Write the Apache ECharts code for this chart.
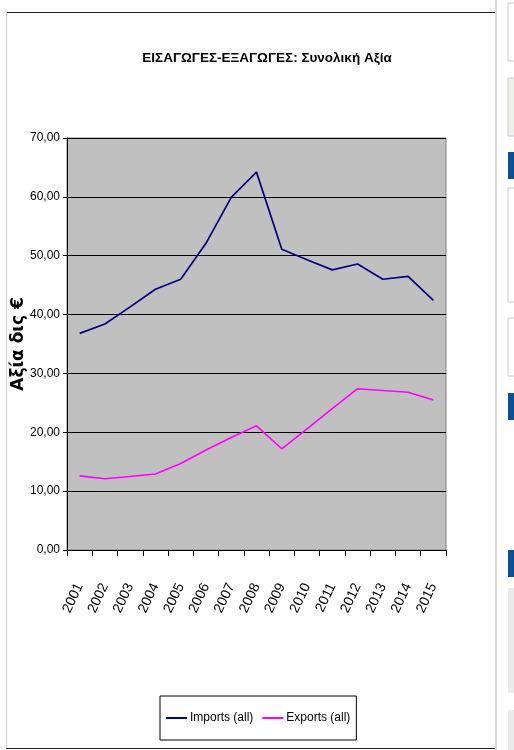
<!DOCTYPE html>
<html><head><meta charset="utf-8">
<script src="https://cdn.jsdelivr.net/npm/echarts@6/dist/echarts.min.js"></script>
<style>html,body{margin:0;padding:0;background:#fff}#c{width:514px;height:750px}</style>
</head><body><div id="c"></div>
<script>
var years = ['2001','2002','2003','2004','2005','2006','2007','2008','2009','2010','2011','2012','2013','2014','2015'];
var imports = [36.8, 38.4, 41.3, 44.3, 46.0, 52.1, 59.9, 64.2, 51.1, 49.3, 47.6, 48.6, 46.0, 46.5, 42.4];
var exports = [12.6, 12.1, 12.5, 12.9, 14.7, 17.0, 19.1, 21.1, 17.2, 20.6, 24.0, 27.4, 27.1, 26.8, 25.5];
var yTicks = [0, 10, 20, 30, 40, 50, 60, 70];
var titleText = 'ΕΙΣΑΓΩΓΕΣ-ΕΞΑΓΩΓΕΣ: Συνολική Αξία';
var yName = 'Αξία δις €';
var seriesNames = ['Imports (all)', 'Exports (all)'];

var FONT = "'Liberation Sans', Arial, sans-serif";
var chart = echarts.init(document.getElementById('c'), null, {renderer: 'canvas'});
chart.setOption({
  animation: false,
  backgroundColor: '#fff',
  title: {
    text: titleText, left: 262, top: 46, textAlign: 'center',
    textStyle: {fontFamily: FONT, fontSize: 13.5, fontWeight: 'bold', color: '#000'}
  },
  grid: {left: 67, right: 68, top: 138, bottom: 200, show: true, outerBoundsMode: 'none', containLabel: false,
    backgroundColor: '#C0C0C0', borderColor: '#808080', borderWidth: 1},
  xAxis: {
    type: 'category', data: years, boundaryGap: true,
    axisLine: {lineStyle: {color: '#000', width: 1}},
    axisTick: {show: true, length: 6, lineStyle: {color: '#000'}},
    axisLabel: {rotate: 65, margin: 34, fontFamily: FONT, fontSize: 14, color: '#000', interval: 0}
  },
  yAxis: {
    type: 'value', min: yTicks[0], max: yTicks[yTicks.length - 1], interval: 10,
    name: yName, nameLocation: 'middle', nameGap: 40, nameRotate: 90, nameMoveOverlap: false,
    nameTextStyle: {fontFamily: 'DejaVu Sans', fontWeight: 'bold', fontSize: 17, color: '#000'},
    axisLine: {show: true, lineStyle: {color: '#000'}},
    axisTick: {show: true, length: 4, lineStyle: {color: '#000'}},
    axisLabel: {margin: 7, fontFamily: FONT, fontSize: 12, color: '#000',
      formatter: function (v) { return v.toFixed(2).replace('.', ','); }},
    splitLine: {show: true, lineStyle: {color: '#000', width: 1}}
  },
  legend: {
    data: seriesNames, left: 160, top: 696, orient: 'horizontal',
    padding: [16, 6, 16, 6], itemGap: 9,
    borderColor: '#000', borderWidth: 1, backgroundColor: '#fff', borderRadius: 0,
    icon: 'rect', itemWidth: 21, itemHeight: 2,
    textStyle: {fontFamily: FONT, fontSize: 12, color: '#000', padding: [0, 0, 0, -2]}
  },
  series: [
    {name: seriesNames[0], type: 'line', data: imports, symbol: 'none',
      lineStyle: {color: '#000080', width: 1.7}, itemStyle: {color: '#000080'}},
    {name: seriesNames[1], type: 'line', data: exports, symbol: 'none',
      lineStyle: {color: '#FF00FF', width: 1.6}, itemStyle: {color: '#FF00FF'}}
  ],
  graphic: [
    {type: 'line', shape: {x1: 6, y1: 12.5, x2: 495, y2: 12.5}, style: {stroke: '#222', lineWidth: 1}},
    {type: 'line', shape: {x1: 6.5, y1: 12, x2: 6.5, y2: 748}, style: {stroke: '#ccc', lineWidth: 1}},
    {type: 'line', shape: {x1: 6, y1: 748.5, x2: 495, y2: 748.5}, style: {stroke: '#222', lineWidth: 1}},
    {type: 'line', shape: {x1: 496, y1: 0, x2: 496, y2: 750}, style: {stroke: '#d0d0d0', lineWidth: 1.5}},
    {type: 'rect', shape: {x: 508, y: 3, width: 10, height: 58}, style: {fill: '#fff', stroke: '#ccc', lineWidth: 1}},
    {type: 'rect', shape: {x: 508, y: 78, width: 10, height: 58}, style: {fill: '#eef0ea', stroke: '#ccc', lineWidth: 1}},
    {type: 'rect', shape: {x: 508, y: 152, width: 10, height: 27}, style: {fill: '#0b4f94'}},
    {type: 'rect', shape: {x: 508, y: 188, width: 10, height: 114}, style: {fill: '#fff', stroke: '#ccc', lineWidth: 1}},
    {type: 'rect', shape: {x: 508, y: 318, width: 10, height: 58}, style: {fill: '#fff', stroke: '#ccc', lineWidth: 1}},
    {type: 'rect', shape: {x: 508, y: 393, width: 10, height: 27}, style: {fill: '#0b4f94'}},
    {type: 'rect', shape: {x: 508, y: 550, width: 10, height: 27}, style: {fill: '#0b4f94'}},
    {type: 'rect', shape: {x: 508, y: 588, width: 10, height: 105}, style: {fill: '#ebebeb'}},
    {type: 'rect', shape: {x: 508, y: 710, width: 10, height: 40}, style: {fill: '#ebebeb'}}
  ]
});
</script></body></html>
